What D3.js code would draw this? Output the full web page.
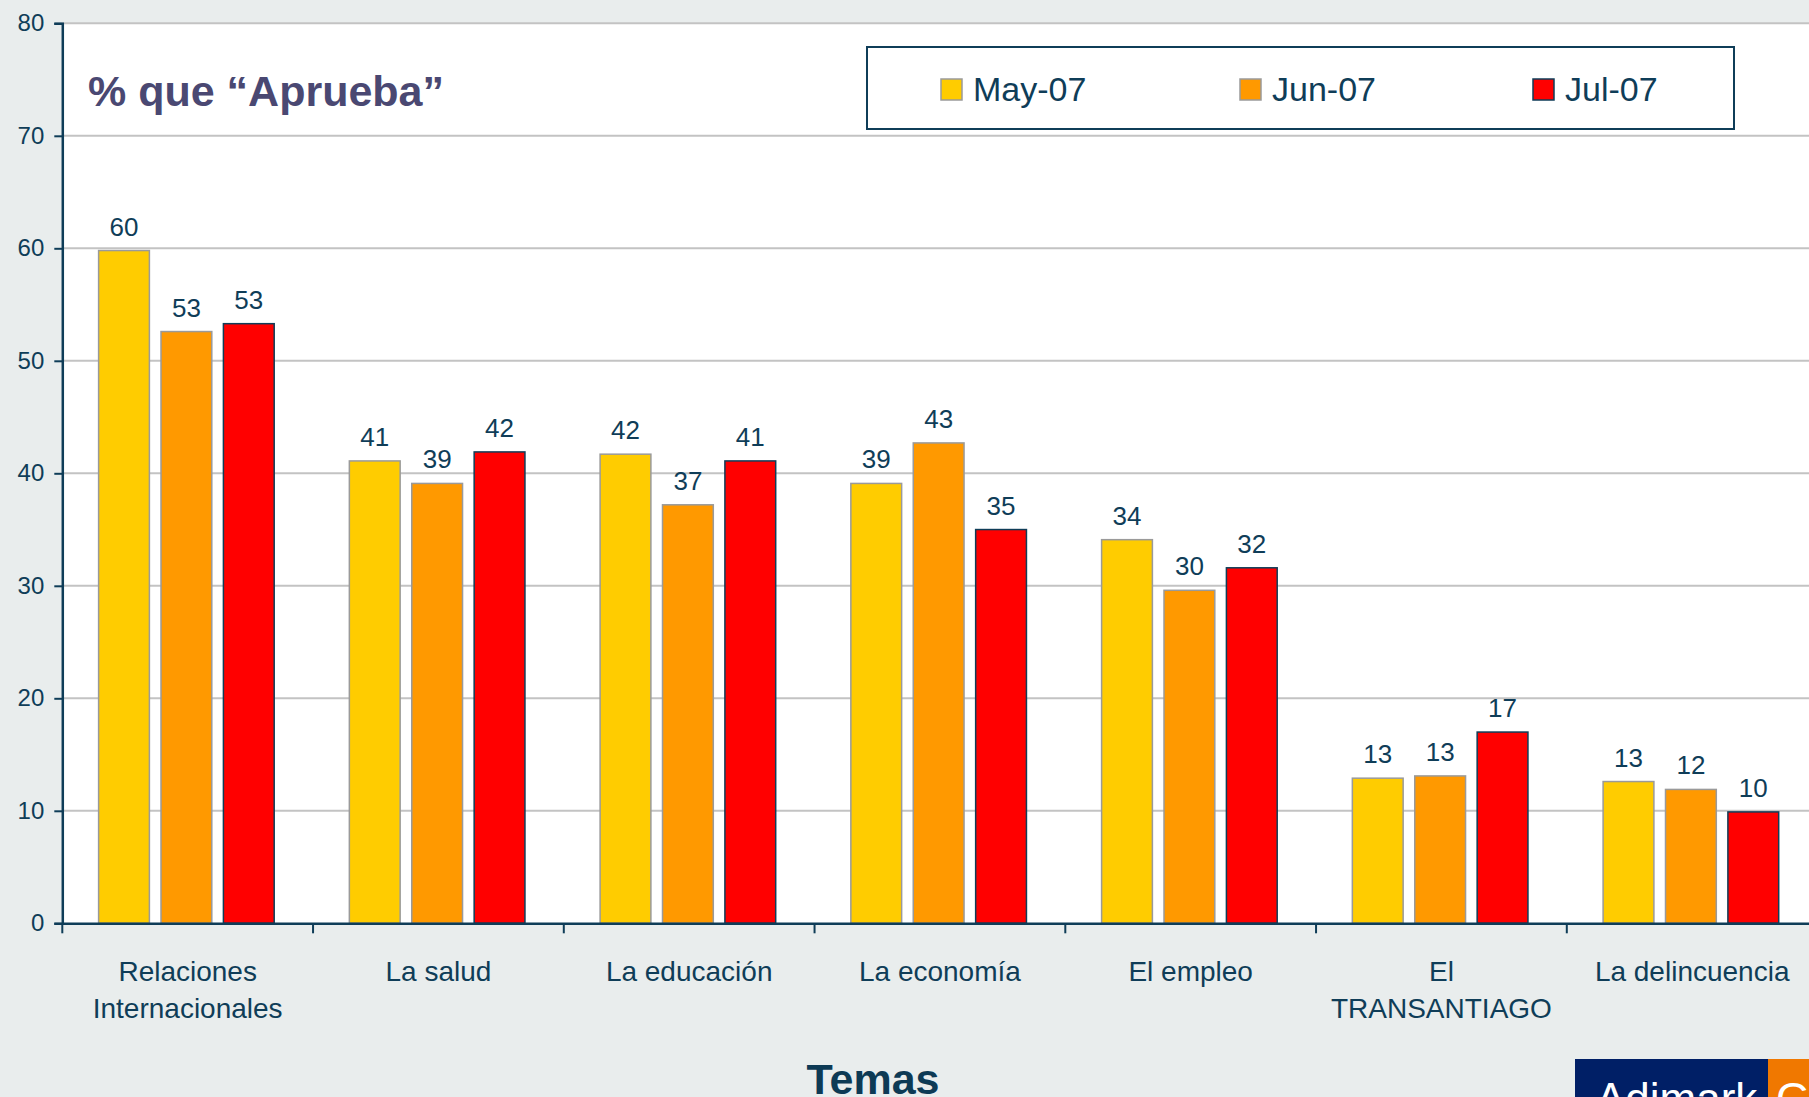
<!DOCTYPE html>
<html lang="es">
<head>
<meta charset="UTF-8">
<title>% que Aprueba</title>
<script src="https://d3js.org/d3.v7.min.js"></script>
<style>
  body { margin: 0; background: #e9eded; }
  svg { display: block; }
  text { font-family: "Liberation Sans", Arial, sans-serif; fill: #0f3d58; }
</style>
</head>
<body>
<svg width="1809" height="1097"></svg>
<script>
// data
const categories = ["Relaciones Internacionales", "La salud", "La educación", "La economía", "El empleo", "El TRANSANTIAGO", "La delincuencia"];
const categoryLines = [["Relaciones", "Internacionales"], ["La salud"], ["La educación"], ["La economía"], ["El empleo"], ["El", "TRANSANTIAGO"], ["La delincuencia"]];
const series = ["May-07", "Jun-07", "Jul-07"];
const may07 = [59.8, 41.1, 41.7, 39.1, 34.1, 12.9, 12.6];
const jun07 = [52.6, 39.1, 37.2, 42.7, 29.6, 13.1, 11.9];
const jul07 = [53.3, 41.9, 41.1, 35.0, 31.6, 17.0, 9.9];
const yTicks = [0, 10, 20, 30, 40, 50, 60, 70, 80];

const colors = { "May-07": "#ffcc00", "Jun-07": "#ff9900", "Jul-07": "#ff0000" };
const strokes = { "May-07": "#9a9a9a", "Jun-07": "#9a9a9a", "Jul-07": "#0f3d58" };
const navy = "#0f3d58";

const seriesValues = { "May-07": may07, "Jun-07": jun07, "Jul-07": jul07 };
const rows = categories.map((c, i) => ({
  cat: c,
  lines: categoryLines[i],
  vals: series.map(s => ({ key: s, value: seriesValues[s][i] }))
}));

const svg = d3.select("svg");
const plotLeft = 62.3, plotTop = 23.3, plotBottom = 923.3, step = 250.75;

const x0 = d3.scaleBand().domain(categories).range([plotLeft, plotLeft + step * categories.length]).padding(0);
const x1 = d3.scaleBand().domain(series).range([36.3, 36.3 + 175.6]).paddingInner(0.186);
const y = d3.scaleLinear().domain([0, 80]).range([plotBottom, plotTop]);

// plot area
svg.append("rect")
  .attr("x", plotLeft).attr("y", plotTop)
  .attr("width", 1809 - plotLeft).attr("height", plotBottom - plotTop)
  .attr("fill", "#fff");

// gridlines
svg.append("g")
  .selectAll("line")
  .data(yTicks.filter(d => d > 0))
  .join("line")
  .attr("x1", plotLeft).attr("x2", 1809)
  .attr("y1", d => y(d)).attr("y2", d => y(d))
  .attr("stroke", "#c3c3c3").attr("stroke-width", 2);

// title
svg.append("text")
  .attr("x", 88).attr("y", 106)
  .attr("font-size", 43).attr("font-weight", "bold")
  .style("fill", "#4a4872")
  .text("% que \u201cAprueba\u201d");

// legend
const legend = svg.append("g");
legend.append("rect")
  .attr("x", 867).attr("y", 47).attr("width", 867).attr("height", 82)
  .attr("fill", "#fff").attr("stroke", navy).attr("stroke-width", 2);
const legX = [941, 1240, 1533];
const items = legend.selectAll("g.item").data(series).join("g")
  .attr("transform", (d, i) => `translate(${legX[i]},0)`);
items.append("rect")
  .attr("x", 0).attr("y", 79).attr("width", 21).attr("height", 21)
  .attr("fill", d => colors[d]).attr("stroke", d => strokes[d]).attr("stroke-width", 1.5);
items.append("text")
  .attr("x", 32).attr("y", 101)
  .attr("font-size", 34)
  .text(d => d);

// bars
const groups = svg.append("g").selectAll("g")
  .data(rows)
  .join("g")
  .attr("transform", d => `translate(${x0(d.cat)},0)`);

groups.selectAll("rect")
  .data(d => d.vals)
  .join("rect")
  .attr("x", d => x1(d.key))
  .attr("y", d => y(d.value))
  .attr("width", x1.bandwidth())
  .attr("height", d => y(0) - y(d.value))
  .attr("fill", d => colors[d.key])
  .attr("stroke", d => strokes[d.key])
  .attr("stroke-width", 1.5);

groups.selectAll("text.val")
  .data(d => d.vals)
  .join("text")
  .attr("class", "val")
  .attr("x", d => x1(d.key) + x1.bandwidth() / 2)
  .attr("y", d => y(d.value) - 15)
  .attr("text-anchor", "middle")
  .attr("font-size", 26)
  .text(d => d3.format(".0f")(d.value));

// y axis
const yAxis = svg.append("g")
  .attr("transform", `translate(${plotLeft},0)`)
  .call(d3.axisLeft(y).tickValues(yTicks).tickSize(8).tickPadding(10));
yAxis.select(".domain").attr("stroke", navy).attr("stroke-width", 2.5);
yAxis.selectAll(".tick line").attr("stroke", navy).attr("stroke-width", 2);
yAxis.selectAll(".tick text")
  .attr("font-size", 24)
  .attr("font-family", "Liberation Sans, Arial, sans-serif")
  .style("fill", navy);

// x axis
const xAxis = svg.append("g")
  .attr("transform", `translate(0,${plotBottom})`)
  .call(d3.axisBottom(x0).tickSize(0).tickFormat(""));
xAxis.select(".domain").attr("stroke", navy).attr("stroke-width", 2.5);

const bounds = categories.map(c => x0(c)).concat([x0.range()[1]]);
xAxis.selectAll("line.bound")
  .data(bounds)
  .join("line")
  .attr("class", "bound")
  .attr("x1", d => d).attr("x2", d => d)
  .attr("y1", 0).attr("y2", 10)
  .attr("stroke", navy).attr("stroke-width", 2);

const catLabels = svg.append("g").selectAll("text")
  .data(rows)
  .join("text")
  .attr("text-anchor", "middle")
  .attr("font-size", 28)
  .attr("x", d => x0(d.cat) + x0.bandwidth() / 2)
  .attr("y", 981);
catLabels.selectAll("tspan")
  .data(d => d.lines)
  .join("tspan")
  .attr("x", function() { return d3.select(this.parentNode).attr("x"); })
  .attr("dy", (d, i) => i === 0 ? 0 : 37)
  .text(d => d);

// axis title
svg.append("text")
  .attr("x", 873).attr("y", 1094)
  .attr("text-anchor", "middle")
  .attr("font-size", 43).attr("font-weight", "bold")
  .style("fill", "#0d3a55")
  .text("Temas");

// logo corner
svg.append("rect").attr("x", 1575).attr("y", 1059).attr("width", 193).attr("height", 40).attr("fill", "#001f66");
svg.append("rect").attr("x", 1768).attr("y", 1059).attr("width", 41).attr("height", 40).attr("fill", "#f07800");
svg.append("text").attr("x", 1596).attr("y", 1114).attr("font-size", 44).style("fill", "#fff").text("Adimark");
svg.append("text").attr("x", 1776).attr("y", 1114).attr("font-size", 44).style("fill", "#fff").text("GfK");
</script>
</body>
</html>
